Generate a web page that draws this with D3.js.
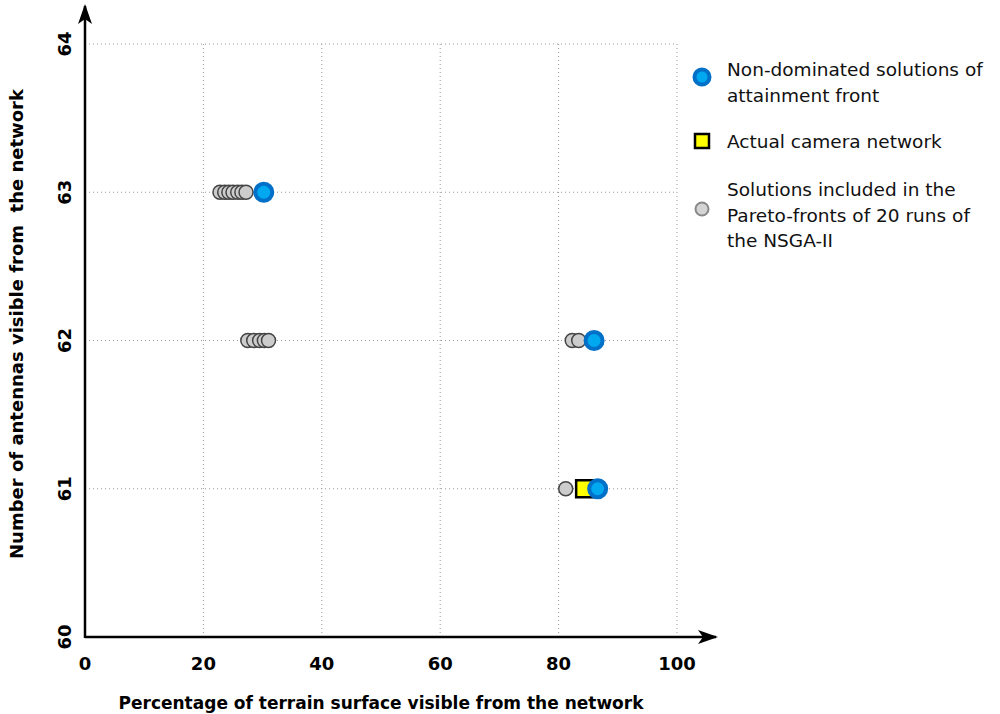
<!DOCTYPE html>
<html>
<head>
<script src="https://d3js.org/d3.v7.min.js"></script>
<style>
body { margin: 0; background: #fff; }
text { font-family: "DejaVu Sans", sans-serif; }
</style>
</head>
<body>
<script>
// values
var xTicks = [0, 20, 40, 60, 80, 100];
var yTicks = [60, 61, 62, 63, 64];

var paretoX = [22.8, 23.6, 24.3, 25.0, 25.8, 26.5, 27.2,
               27.5, 28.5, 29.5, 30.3, 31.0,
               82.3, 83.4,
               81.2];
var paretoY = [63, 63, 63, 63, 63, 63, 63,
               62, 62, 62, 62, 62,
               62, 62,
               61];

var frontX = [30.2, 86.0, 86.6];
var frontY = [63, 62, 61];

var cameraX = [84.4];
var cameraY = [61];

var legendLabels = [
    ["Non-dominated solutions of", "attainment front"],
    ["Actual camera network"],
    ["Solutions included in the", "Pareto-fronts of 20 runs of", "the NSGA-II"]
];

var width = 1000, height = 714;
var x0 = 85, x1 = 677, y0 = 637, y1 = 44;

var x = d3.scaleLinear().domain([0, 100]).range([x0, x1]);
var y = d3.scaleLinear().domain([60, 64]).range([y0, y1]);

var svg = d3.select('body').append('svg')
    .attr('width', width)
    .attr('height', height);

svg.append('defs').append('marker')
    .attr('id', 'arrow')
    .attr('viewBox', '0 0 20 14')
    .attr('refX', 18).attr('refY', 7)
    .attr('markerWidth', 20).attr('markerHeight', 14)
    .attr('markerUnits', 'userSpaceOnUse')
    .attr('orient', 'auto')
    .append('path')
    .attr('d', 'M0,0 L20,7 L0,14 L5,7 Z')
    .attr('fill', '#000');

// grid
svg.append('g').selectAll('line')
    .data(xTicks.filter(function(d) { return d > 0; }))
    .enter().append('line')
    .attr('x1', function(d) { return x(d); })
    .attr('x2', function(d) { return x(d); })
    .attr('y1', y(60)).attr('y2', y(64))
    .attr('stroke', '#999').attr('stroke-dasharray', '1,3');

svg.append('g').selectAll('line')
    .data(yTicks.filter(function(d) { return d > 60; }))
    .enter().append('line')
    .attr('x1', x(0)).attr('x2', x(100))
    .attr('y1', function(d) { return y(d); })
    .attr('y2', function(d) { return y(d); })
    .attr('stroke', '#999').attr('stroke-dasharray', '1,3');

// axes with arrows
svg.append('line')
    .attr('x1', x0).attr('y1', y0).attr('x2', 716).attr('y2', y0)
    .attr('stroke', '#000').attr('stroke-width', 2.5)
    .attr('marker-end', 'url(#arrow)');
svg.append('line')
    .attr('x1', x0).attr('y1', y0 + 1).attr('x2', x0).attr('y2', 6)
    .attr('stroke', '#000').attr('stroke-width', 2.5)
    .attr('marker-end', 'url(#arrow)');

// tick labels
svg.append('g').selectAll('text')
    .data(xTicks).enter().append('text')
    .attr('x', function(d) { return x(d); })
    .attr('y', 670)
    .attr('text-anchor', 'middle')
    .attr('font-size', 18).attr('font-weight', 'bold')
    .text(function(d) { return d; });

svg.append('g').selectAll('text')
    .data(yTicks).enter().append('text')
    .attr('transform', function(d) { return 'translate(71,' + y(d) + ') rotate(-90)'; })
    .attr('text-anchor', 'middle')
    .attr('font-size', 18).attr('font-weight', 'bold')
    .text(function(d) { return d; });

// axis titles
svg.append('text')
    .attr('x', 381).attr('y', 709)
    .attr('text-anchor', 'middle')
    .attr('font-size', 17).attr('font-weight', 'bold')
    .text('Percentage of terrain surface visible from the network');

svg.append('text')
    .attr('transform', 'translate(23,324) rotate(-90)')
    .attr('text-anchor', 'middle')
    .attr('font-size', 18).attr('font-weight', 'bold')
    .style('white-space', 'pre')
    .text('Number of antennas visible from  the network');

// pareto solutions
svg.append('g').selectAll('circle')
    .data(d3.range(paretoX.length)).enter().append('circle')
    .attr('cx', function(i) { return x(paretoX[i]); })
    .attr('cy', function(i) { return y(paretoY[i]); })
    .attr('r', 7)
    .attr('fill', '#cccccc').attr('stroke', '#444').attr('stroke-width', 1.5);

// camera network
svg.append('g').selectAll('rect')
    .data(d3.range(cameraX.length)).enter().append('rect')
    .attr('x', function(i) { return x(cameraX[i]) - 8.5; })
    .attr('y', function(i) { return y(cameraY[i]) - 8.5; })
    .attr('width', 17).attr('height', 17)
    .attr('fill', '#ffff00').attr('stroke', '#000').attr('stroke-width', 2.5);

// attainment front
svg.append('g').selectAll('circle')
    .data(d3.range(frontX.length)).enter().append('circle')
    .attr('cx', function(i) { return x(frontX[i]); })
    .attr('cy', function(i) { return y(frontY[i]); })
    .attr('r', 8.5)
    .attr('fill', '#00a8f0').attr('stroke', '#0070c8').attr('stroke-width', 4);

// legend
var lg = svg.append('g');
lg.append('circle').attr('cx', 702).attr('cy', 77).attr('r', 7.5)
    .attr('fill', '#00a8f0').attr('stroke', '#0070c8').attr('stroke-width', 4);
lg.append('rect').attr('x', 695).attr('y', 134).attr('width', 14).attr('height', 14)
    .attr('fill', '#ffff00').attr('stroke', '#000').attr('stroke-width', 2.5);
lg.append('circle').attr('cx', 702).attr('cy', 209).attr('r', 6.5)
    .attr('fill', '#d4d4d4').attr('stroke', '#888').attr('stroke-width', 2);

var legendY = [76, 148, 196];
legendLabels.forEach(function(lines, k) {
    var t = lg.append('text')
        .attr('x', 727).attr('y', legendY[k])
        .attr('font-size', 18.5).attr('fill', '#111');
    lines.forEach(function(s, j) {
        t.append('tspan').attr('x', 727).attr('dy', j === 0 ? 0 : 25.5).text(s);
    });
});
</script>
</body>
</html>
